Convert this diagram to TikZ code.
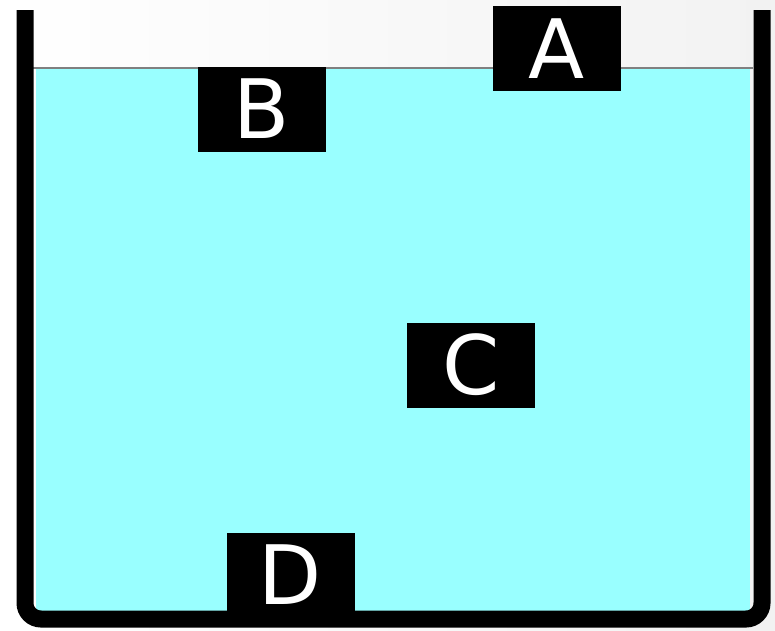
\documentclass[tikz,border=0pt]{standalone}
\usepackage{fontspec}
\setmainfont{DejaVu Sans}
\definecolor{water}{HTML}{99FFFF}
\definecolor{bgright}{HTML}{F2F2F2}
\begin{document}
\begin{tikzpicture}[x=1pt,y=-1pt,
  label box/.style={fill=black,text=white,minimum width=128pt,minimum height=85pt,inner sep=0pt,
    font=\fontsize{82}{82}\selectfont}]
\useasboundingbox (0,0) rectangle (775,630);
\shade[left color=white,right color=bgright,shading angle=90] (0,0) rectangle (775,630);
% water
\fill[water] (36,68) rectangle (750,612);
\draw[gray,line width=2.5pt] (33,68) -- (753,68);
% container
\draw[line width=17pt,rounded corners=16pt] (25,10) -- (25,619) -- (762,619) -- (762,10);
% boxes
\node[label box] (A) at (556.5,48.5) {A};
\node[label box] (B) at (261.5,109) {B};
\node[label box] (C) at (471,365) {C};
\node[label box] (D) at (290.5,575) {D};
\end{tikzpicture}
\end{document}
